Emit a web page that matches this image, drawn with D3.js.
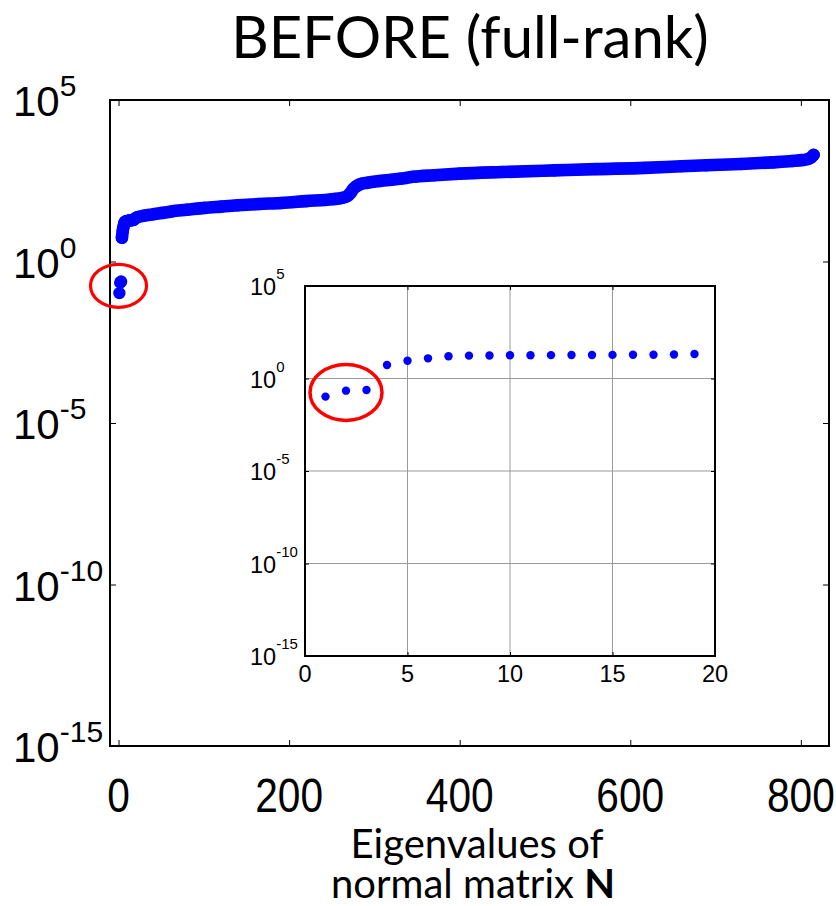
<!DOCTYPE html>
<html><head><meta charset="utf-8">
<script src="https://cdn.jsdelivr.net/npm/d3@7"></script>
<style>body{margin:0;background:#fff}svg{display:block}
.num{font-family:"Liberation Sans", Arial, Helvetica, sans-serif}
.lab{font-family:Lato, "Open Sans", sans-serif}</style>
</head><body>
<svg id="chart" width="836" height="906"></svg>
<script>
// ---- data ----
const eigIndex = [1,2,3,4,5,6,7,8,9,10,11,12,13,14,15,16,17,18,19,
  23,30,40,50,62,80,101,120,140,165,191,220,251,262,268,272,275,279,284,292,
  306,330,345,370,400,450,511,560,617,660,689,730,767,790,802,808,812,815];
const eigValue = [0.105,0.22,0.24,5.4,9.1,12.3,15.8,17.2,17.6,17.9,18.1,18.3,18.5,18.7,18.9,19.1,19.4,19.8,21.0,
  24,26.3,28.8,31.6,35.5,39.8,45.7,50.1,55,60.3,64.6,74.1,85.1,93.3,105,132,174,214,251,275,
  309,363,417,468,525,589,661,724,794,891,955,1047,1175,1288,1380,1479,1660,1995];
const rankDeficient = 3;           // first eigenvalues circled in red
const mainXTicks = [0,200,400,600,800];
const mainYExp = [5,0,-5,-10,-15];
const insetXTicks = [0,5,10,15,20];
const insetYExp = [5,0,-5,-10,-15];
const insetMaxIndex = 19;
const titleText = "BEFORE (full-rank)";

const pts = eigIndex.map((d,i)=>({i:d, v:eigValue[i]}));
const svg = d3.select('#chart');
const BLUE = '#0000ff';

// ---- main axes ----
const M = {l:110, r:829, t:100, b:746};
const x = d3.scaleLinear().domain([-10, 833]).range([M.l, M.r]);
const y = d3.scaleLog().domain([1e-15, 1e5]).range([M.b, M.t]);

function ticksOnly(g){ g.select('.domain').remove(); g.selectAll('line').attr('stroke','#000').attr('stroke-width',1); }
svg.append('g').attr('transform',`translate(0,${M.b})`)
  .call(d3.axisBottom(x).tickValues(mainXTicks).tickSize(-6).tickFormat('')).call(ticksOnly);
svg.append('g').attr('transform',`translate(0,${M.t})`)
  .call(d3.axisTop(x).tickValues(mainXTicks).tickSize(-6).tickFormat('')).call(ticksOnly);
svg.append('g').attr('transform',`translate(${M.l},0)`)
  .call(d3.axisLeft(y).tickValues(mainYExp.map(e=>Math.pow(10,e))).tickSize(-6).tickFormat('')).call(ticksOnly);
svg.append('g').attr('transform',`translate(${M.r},0)`)
  .call(d3.axisRight(y).tickValues(mainYExp.map(e=>Math.pow(10,e))).tickSize(-6).tickFormat('')).call(ticksOnly);
svg.append('rect').attr('x',M.l).attr('y',M.t).attr('width',M.r-M.l).attr('height',M.b-M.t)
  .attr('fill','none').attr('stroke','#000').attr('stroke-width',2);

// main tick labels
mainXTicks.forEach(t=>{
  svg.append('text').attr('class','num').attr('transform',`translate(${x(t)},812) scale(0.83,1)`)
    .attr('text-anchor','middle').attr('font-size',49).text(t);
});
mainYExp.forEach(e=>{
  const ty = y(Math.pow(10,e));
  const t = svg.append('text').attr('class','num').attr('x',13).attr('y',ty+16).attr('font-size',42);
  t.append('tspan').text('10');
  t.append('tspan').attr('dy',-20).attr('font-size',30).text(e);
});

// main curve
const full = pts.filter(d=>d.i>rankDeficient);
const line = d3.line().x(d=>x(d.i)).y(d=>y(d.v)).curve(d3.curveMonotoneX);
svg.append('path').datum(full).attr('d',line).attr('fill','none')
  .attr('stroke',BLUE).attr('stroke-width',12.6).attr('stroke-linecap','round').attr('stroke-linejoin','round');
svg.append('g').selectAll('circle').data(pts).join('circle')
  .attr('cx',d=>x(d.i)).attr('cy',d=>y(d.v)).attr('r',6.2).attr('fill',BLUE);

// red ellipse main
const low = pts.filter(d=>d.i<=rankDeficient);
const lowLogMean = d3.mean(low,d=>Math.log10(d.v));
svg.append('ellipse').attr('cx',x(0)).attr('cy',y(Math.pow(10,lowLogMean)))
  .attr('rx',28).attr('ry',21.5).attr('fill','none').attr('stroke','#ff0000').attr('stroke-width',3.2);

// ---- inset ----
const I = {l:305, r:715, t:286, b:656};
const xi = d3.scaleLinear().domain([0,20]).range([I.l, I.r]);
const yi = d3.scaleLog().domain([1e-15,1e5]).range([I.b, I.t]);
svg.append('rect').attr('x',I.l).attr('y',I.t).attr('width',I.r-I.l).attr('height',I.b-I.t).attr('fill','#fff');
// grid
svg.append('g').selectAll('line').data(insetXTicks.slice(1,-1)).join('line')
  .attr('x1',d=>xi(d)).attr('x2',d=>xi(d)).attr('y1',I.t).attr('y2',I.b).attr('stroke','#9a9a9a').attr('stroke-width',1);
svg.append('g').selectAll('line').data(insetYExp.slice(1,-1)).join('line')
  .attr('y1',d=>yi(Math.pow(10,d))).attr('y2',d=>yi(Math.pow(10,d))).attr('x1',I.l).attr('x2',I.r).attr('stroke','#9a9a9a').attr('stroke-width',1);
svg.append('g').attr('transform',`translate(0,${I.b})`)
  .call(d3.axisBottom(xi).tickValues(insetXTicks).tickSize(-4).tickFormat('')).call(ticksOnly);
svg.append('g').attr('transform',`translate(0,${I.t})`)
  .call(d3.axisTop(xi).tickValues(insetXTicks).tickSize(-4).tickFormat('')).call(ticksOnly);
svg.append('g').attr('transform',`translate(${I.l},0)`)
  .call(d3.axisLeft(yi).tickValues(insetYExp.map(e=>Math.pow(10,e))).tickSize(-4).tickFormat('')).call(ticksOnly);
svg.append('g').attr('transform',`translate(${I.r},0)`)
  .call(d3.axisRight(yi).tickValues(insetYExp.map(e=>Math.pow(10,e))).tickSize(-4).tickFormat('')).call(ticksOnly);
svg.append('rect').attr('x',I.l).attr('y',I.t).attr('width',I.r-I.l).attr('height',I.b-I.t)
  .attr('fill','none').attr('stroke','#000').attr('stroke-width',2);

insetXTicks.forEach(t=>{
  svg.append('text').attr('class','num').attr('x',xi(t)).attr('y',682).attr('text-anchor','middle')
    .attr('font-size',23.5).text(t);
});
insetYExp.forEach(e=>{
  const ty = yi(Math.pow(10,e));
  const t = svg.append('text').attr('class','num').attr('x',250).attr('y',ty+9).attr('font-size',23.5);
  t.append('tspan').text('10');
  t.append('tspan').attr('dy',-16).attr('font-size',15).text(e);
});
svg.append('g').selectAll('circle').data(pts.filter(d=>d.i<=insetMaxIndex)).join('circle')
  .attr('cx',d=>xi(d.i)).attr('cy',d=>yi(d.v)).attr('r',4.2).attr('fill',BLUE);
svg.append('ellipse').attr('cx',xi(2)).attr('cy',yi(Math.pow(10,lowLogMean)))
  .attr('rx',36).attr('ry',28).attr('fill','none').attr('stroke','#ff0000').attr('stroke-width',3.5);

// ---- titles ----
svg.append('text').attr('class','lab').attr('x',470).attr('y',58).attr('text-anchor','middle')
  .attr('font-size',58).text(titleText);
const xl = svg.append('text').attr('class','lab').attr('text-anchor','middle').attr('font-size',40);
xl.append('tspan').attr('x',477).attr('y',858).text('Eigenvalues of');
xl.append('tspan').attr('x',473).attr('y',898).text('normal matrix ');
xl.append('tspan').attr('font-weight',700).text('N');
</script>
</body></html>
